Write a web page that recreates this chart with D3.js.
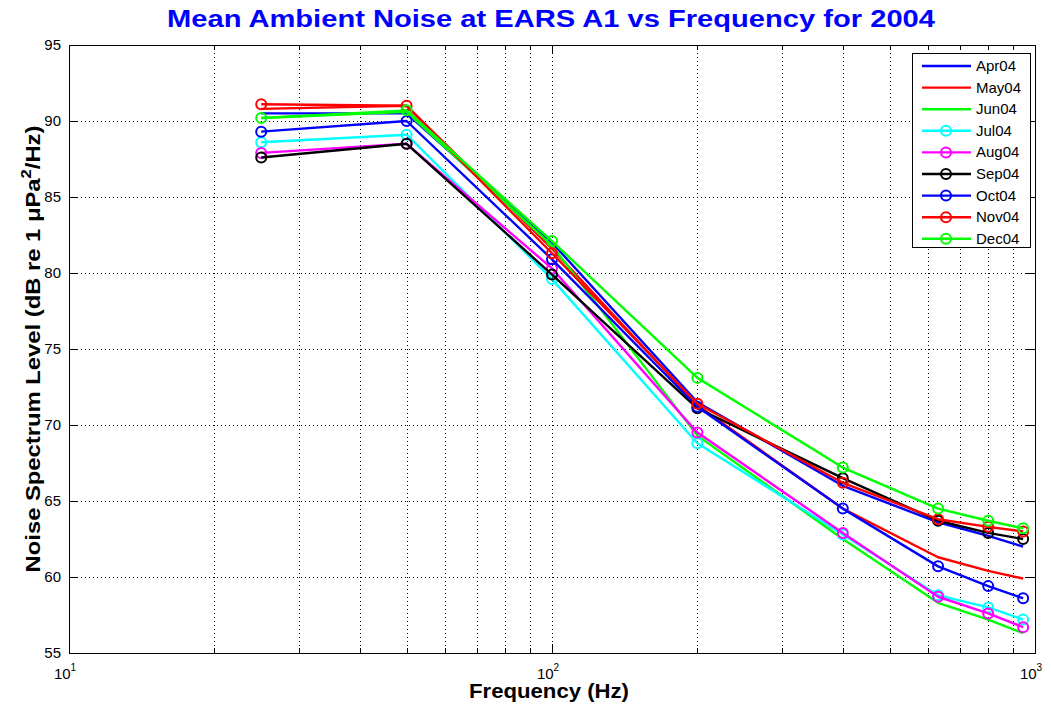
<!DOCTYPE html>
<html>
<head>
<meta charset="utf-8">
<script src="https://cdn.jsdelivr.net/npm/d3@7"></script>
<style>
  body { margin: 0; background: #fff; }
  svg { display: block; font-family: "Liberation Sans", Arial, sans-serif; }
</style>
</head>
<body>
<svg id="chart" width="1051" height="706"></svg>
<script>

// measurement frequencies (Hz)
let freqs = [25, 50, 100, 200, 400, 630, 800, 945];

// monthly mean levels (dB re 1 uPa^2/Hz)
let apr04 = [90.5, 90.5, 82.0, 71.5, 66.0, 63.6, 62.7, 62.0],
    may04 = [90.8, 91.0, 81.6, 71.3, 64.5, 61.3, 60.4, 59.9],
    jun04 = [90.2, 90.6, 81.8, 69.3, 62.5, 58.3, 57.2, 56.3],
    jul04 = [88.6, 89.1, 79.6, 68.8, 62.8, 58.8, 58.0, 57.2],
    aug04 = [87.9, 88.5, 80.3, 69.5, 62.9, 58.7, 57.6, 56.7],
    sep04 = [87.6, 88.5, 79.9, 71.1, 66.5, 63.7, 62.9, 62.5],
    oct04 = [89.3, 90.0, 80.9, 71.2, 64.5, 60.7, 59.4, 58.6],
    nov04 = [91.1, 91.0, 81.3, 71.4, 66.2, 63.8, 63.3, 63.0],
    dec04 = [90.2, 90.7, 82.1, 73.1, 67.2, 64.5, 63.7, 63.2];

let series_names = ['Apr04', 'May04', 'Jun04', 'Jul04', 'Aug04', 'Sep04', 'Oct04', 'Nov04', 'Dec04'];
let series_values = [apr04, may04, jun04, jul04, aug04, sep04, oct04, nov04, dec04];
let series_colors = ['#0000ff', '#ff0000', '#00ff00', '#00ffff', '#ff00ff', '#000000', '#0000ff', '#ff0000', '#00ff00'];
let series_markers = [false, false, false, true, true, true, true, true, true];

let y_ticks = [55, 60, 65, 70, 75, 80, 85, 90, 95];
let x_major = [10, 100, 1000];

let svg = d3.select('#chart'),
    ax_left = 69,
    ax_right = 1035,
    ax_top = 45,
    ax_bottom = 653;

let x = d3.scaleLog().domain([10, 1000]).range([ax_left, ax_right]),
    y = d3.scaleLinear().domain([55, 95]).range([ax_bottom, ax_top]);

// minor log ticks 20..90, 200..900
let x_minor = [];
[10, 100].forEach(function (d) {
    for (let k = 2; k <= 9; k++) x_minor.push(d * k);
});

let grid = svg.append('g')
    .attr('stroke', '#000')
    .attr('stroke-width', 1)
    .attr('stroke-dasharray', '1,3');

grid.selectAll('.gx')
    .data(x_minor.concat([100]))
    .enter()
    .append('line')
    .attr('x1', d => Math.round(x(d)) + 0.5)
    .attr('x2', d => Math.round(x(d)) + 0.5)
    .attr('y1', ax_top)
    .attr('y2', ax_bottom);

grid.selectAll('.gy')
    .data(y_ticks.slice(1, -1))
    .enter()
    .append('line')
    .attr('x1', ax_left)
    .attr('x2', ax_right)
    .attr('y1', d => Math.round(y(d)) + 0.5)
    .attr('y2', d => Math.round(y(d)) + 0.5);

// box
svg.append('rect')
    .attr('x', ax_left + 0.5)
    .attr('y', ax_top + 0.5)
    .attr('width', ax_right - ax_left)
    .attr('height', ax_bottom - ax_top)
    .attr('fill', 'none')
    .attr('stroke', '#000')
    .attr('stroke-width', 1);

// inward ticks on all four sides
let ticks = svg.append('g').attr('stroke', '#000').attr('stroke-width', 1);

y_ticks.forEach(function (d) {
    let yy = Math.round(y(d)) + 0.5;
    ticks.append('line').attr('x1', ax_left).attr('x2', ax_left + 9).attr('y1', yy).attr('y2', yy);
    ticks.append('line').attr('x1', ax_right - 9).attr('x2', ax_right).attr('y1', yy).attr('y2', yy);
});

x_major.forEach(function (d) {
    let xx = Math.round(x(d)) + 0.5;
    ticks.append('line').attr('x1', xx).attr('x2', xx).attr('y1', ax_bottom).attr('y2', ax_bottom - 9);
    ticks.append('line').attr('x1', xx).attr('x2', xx).attr('y1', ax_top).attr('y2', ax_top + 9);
});

x_minor.forEach(function (d) {
    let xx = Math.round(x(d)) + 0.5;
    ticks.append('line').attr('x1', xx).attr('x2', xx).attr('y1', ax_bottom).attr('y2', ax_bottom - 5);
    ticks.append('line').attr('x1', xx).attr('x2', xx).attr('y1', ax_top).attr('y2', ax_top + 5);
});

// y tick labels
svg.append('g')
    .selectAll('text')
    .data(y_ticks)
    .enter()
    .append('text')
    .attr('x', ax_left - 8)
    .attr('y', d => y(d) + 5)
    .attr('text-anchor', 'end')
    .attr('font-size', 15)
    .attr('fill', '#000')
    .text(d => d);

// x tick labels as powers of ten
let xl = svg.append('g')
    .selectAll('text')
    .data(x_major)
    .enter()
    .append('text')
    .attr('x', d => x(d) - 4)
    .attr('y', ax_bottom + 26)
    .attr('text-anchor', 'middle')
    .attr('font-size', 15)
    .attr('fill', '#000');

xl.append('tspan').text('10');
xl.append('tspan')
    .attr('dy', -8)
    .attr('font-size', 10)
    .text(d => Math.round(Math.log10(d)));

// series
let line = d3.line()
    .x((d, i) => x(freqs[i]))
    .y(d => y(d));

let plot = svg.append('g');

series_values.forEach(function (vals, s) {

    plot.append('path')
        .datum(vals)
        .attr('d', line)
        .attr('fill', 'none')
        .attr('stroke', series_colors[s])
        .attr('stroke-width', 2.4)
        .attr('stroke-linejoin', 'round');

    if (series_markers[s]) {
        plot.selectAll('.m' + s)
            .data(vals)
            .enter()
            .append('circle')
            .attr('class', 'm' + s)
            .attr('cx', (d, i) => x(freqs[i]))
            .attr('cy', d => y(d))
            .attr('r', 5)
            .attr('fill', 'none')
            .attr('stroke', series_colors[s])
            .attr('stroke-width', 2);
    }

});

// legend
let lg = svg.append('g');

lg.append('rect')
    .attr('x', 912.5)
    .attr('y', 53.5)
    .attr('width', 118)
    .attr('height', 194)
    .attr('fill', '#fff')
    .attr('stroke', '#000')
    .attr('stroke-width', 1);

series_names.forEach(function (name, s) {

    let yy = 66 + s * 21.6;

    lg.append('line')
        .attr('x1', 922)
        .attr('x2', 971)
        .attr('y1', yy)
        .attr('y2', yy)
        .attr('stroke', series_colors[s])
        .attr('stroke-width', 2.4);

    if (series_markers[s]) {
        lg.append('circle')
            .attr('cx', 946)
            .attr('cy', yy)
            .attr('r', 5)
            .attr('fill', 'none')
            .attr('stroke', series_colors[s])
            .attr('stroke-width', 2);
    }

    lg.append('text')
        .attr('x', 976)
        .attr('y', yy + 5)
        .attr('font-size', 15)
        .attr('fill', '#000')
        .text(name);

});

// title and axis labels
svg.append('text')
    .attr('x', 551)
    .attr('y', 27)
    .attr('text-anchor', 'middle')
    .attr('font-size', 23)
    .attr('font-weight', 'bold')
    .attr('fill', '#0000ff')
    .attr('textLength', 768)
    .attr('lengthAdjust', 'spacingAndGlyphs')
    .text('Mean Ambient Noise at EARS A1 vs Frequency for 2004');

svg.append('text')
    .attr('x', 549)
    .attr('y', 698)
    .attr('text-anchor', 'middle')
    .attr('font-size', 20)
    .attr('font-weight', 'bold')
    .attr('fill', '#000')
    .attr('textLength', 160)
    .attr('lengthAdjust', 'spacingAndGlyphs')
    .text('Frequency (Hz)');

let yl = svg.append('text')
    .attr('transform', 'translate(40,' + ((ax_top + ax_bottom) / 2) + ') rotate(-90) scale(1.19,1)')
    .attr('text-anchor', 'middle')
    .attr('font-size', 20)
    .attr('font-weight', 'bold')
    .attr('fill', '#000');

yl.append('tspan').text('Noise Spectrum Level (dB re 1 \u03bcPa');
yl.append('tspan').attr('dy', -9).attr('font-size', 14).text('2');
yl.append('tspan').attr('dy', 9).text('/Hz)');

</script>
</body>
</html>
